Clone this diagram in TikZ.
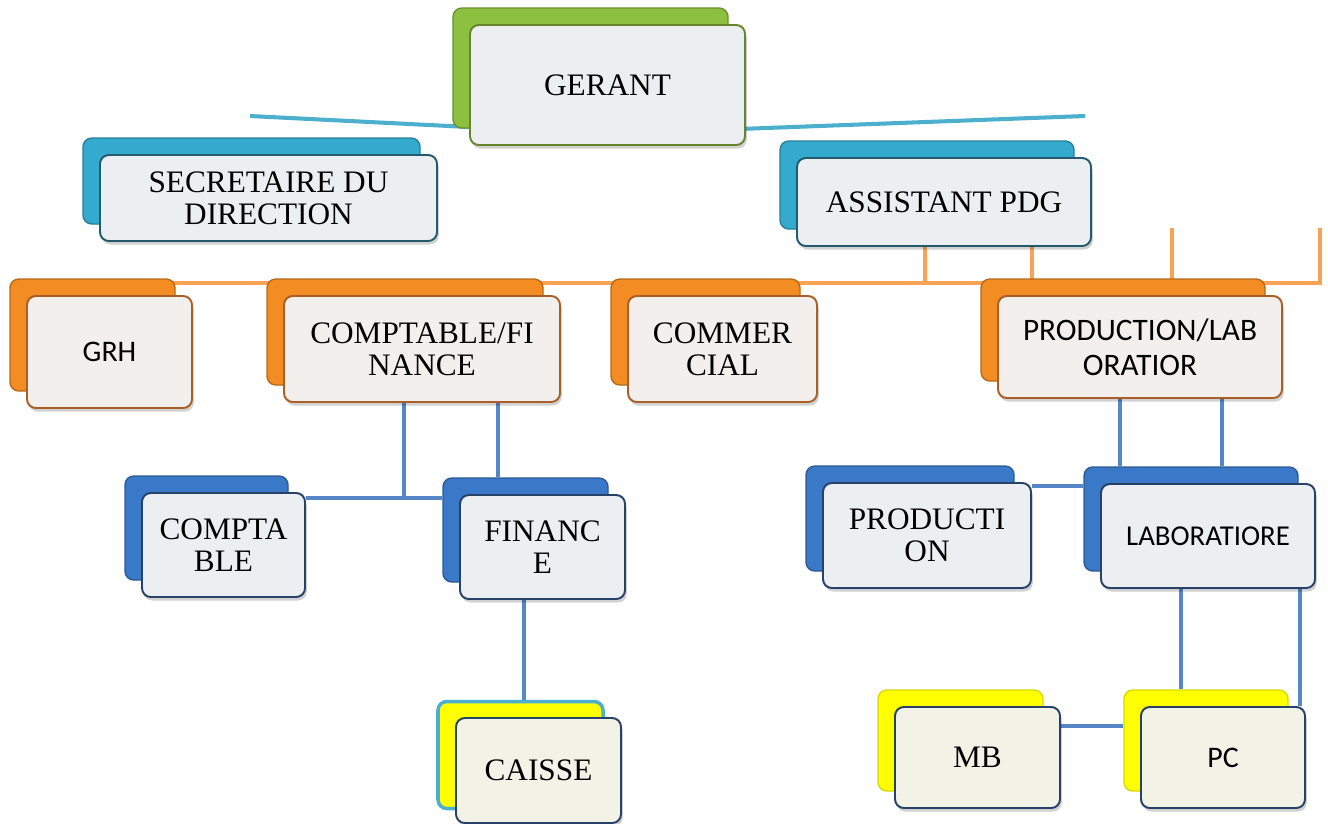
\documentclass[tikz,border=0pt]{standalone}
\usepackage{fontspec}
\setmainfont{Liberation Serif}
\setsansfont{Carlito}
\usetikzlibrary{shapes,positioning,calc,shadows,backgrounds}
\definecolor{vert}{RGB}{141,192,62}
\definecolor{bordvert}{RGB}{100,135,45}
\definecolor{cyanb}{RGB}{52,170,206}
\definecolor{bordcyan}{RGB}{35,90,110}
\definecolor{orangeb}{RGB}{243,140,35}
\definecolor{bordorange}{RGB}{170,95,40}
\definecolor{bleub}{RGB}{58,120,200}
\definecolor{bordbleu}{RGB}{40,65,105}
\definecolor{jauneb}{RGB}{255,255,0}
\definecolor{facefill}{RGB}{236,239,241}
\definecolor{facechaud}{RGB}{242,239,236}
\definecolor{facejaune}{RGB}{242,242,230}
\definecolor{lcyan}{RGB}{75,175,205}
\definecolor{lorange}{RGB}{250,162,85}
\definecolor{lbleu}{RGB}{85,135,200}
\tikzset{
  dos/.style={draw=#1!75!black, fill=#1, rounded corners=5pt, line width=0.8pt, inner sep=0pt},
  face/.style={draw=#1, fill=facefill, rounded corners=5pt, line width=1.1pt, inner sep=0pt,
    align=center, font=\fontsize{17.8}{18}\selectfont,
    drop shadow={shadow xshift=1pt, shadow yshift=-2pt, fill=black, opacity=0.18}},
  taille/.style 2 args={minimum width=#1*0.02cm, minimum height=#2*0.02cm},
  sans/.style={font=\sffamily\fontsize{17}{20}\selectfont},
  liencyan/.style={draw=lcyan, line width=2.3pt},
  lienorange/.style={draw=lorange, line width=2.2pt},
  lienbleu/.style={draw=lbleu, line width=2.2pt}
}
\begin{document}
\begin{tikzpicture}[x=0.02cm, y=-0.02cm]
\useasboundingbox (0,0) rectangle (1328,823);

% direction
\node[dos=vert, taille={275}{120}] (gerantb) at (590.5,68) {};
\node[face=bordvert, taille={275}{120}] (gerant) at (607.5,85) {GERANT};

\node[dos=cyanb, taille={337}{86}] (secrb) at (251.5,181) {};
\node[face=bordcyan, taille={337}{86}] (secr) at (268.5,198) {SECRETAIRE DU\\DIRECTION};

\node[dos=cyanb, taille={294}{88}] (assistb) at (927,185) {};
\node[face=bordcyan, taille={294}{88}] (assist) at (944,202) {ASSISTANT PDG};

% services
\node[dos=orangeb, taille={165}{112}] (grhb) at (92.5,335) {};
\node[face=bordorange, fill=facechaud, sans, taille={165}{112}] (grh) at (109.5,352) {GRH};

\node[dos=orangeb, taille={276}{106}] (compfinb) at (405,332) {};
\node[face=bordorange, fill=facechaud, taille={276}{106}] (compfin) at (422,349) {COMPTABLE/FI\\NANCE};

\node[dos=orangeb, taille={189}{106}] (commb) at (705.5,332) {};
\node[face=bordorange, fill=facechaud, taille={189}{106}] (comm) at (722.5,349) {COMMER\\CIAL};

\node[dos=orangeb, taille={284}{102}] (prodlabb) at (1123,330) {};
\node[face=bordorange, fill=facechaud, font=\sffamily\fontsize{17.8}{20}\selectfont, taille={284}{102}] (prodlab) at (1140,347) {PRODUCTION/LAB\\ORATIOR};

% sous-services
\node[dos=bleub, taille={163}{104}] (comptableb) at (206.5,528) {};
\node[face=bordbleu, taille={163}{104}] (comptable) at (223.5,545) {COMPTA\\BLE};

\node[dos=bleub, taille={165}{104}] (financeb) at (525.5,530) {};
\node[face=bordbleu, taille={165}{104}] (finance) at (542.5,547) {FINANC\\E};

\node[dos=bleub, taille={208}{105}] (productionb) at (910,518.5) {};
\node[face=bordbleu, taille={208}{105}] (production) at (927,535.5) {PRODUCTI\\ON};

\node[dos=bleub, taille={214}{104}] (labob) at (1191,519) {};
\node[face=bordbleu, font=\sffamily\fontsize{16.4}{20}\selectfont, taille={214}{104}] (labo) at (1208,536) {LABORATIORE};

% postes
\node[dos=jauneb, draw=lcyan, line width=2pt, taille={165}{107}] (caisseb) at (520.5,755) {};
\node[face=bordbleu, fill=facejaune, taille={165}{105}] (caisse) at (538.5,770.5) {CAISSE};

\node[dos=jauneb, draw=jauneb!85!black, taille={165}{101}] (mbb) at (960.5,740.5) {};
\node[face=bordbleu, fill=facejaune, taille={165}{101}] (mb) at (977.5,757.5) {MB};

\node[dos=jauneb, draw=jauneb!85!black, taille={164}{101}] (pcb) at (1206,740.5) {};
\node[face=bordbleu, fill=facejaune, sans, taille={164}{101}] (pc) at (1223,757.5) {PC};

\begin{pgfonlayer}{background}
% ligne cyan sous le gerant
\coordinate (cg) at (250,116);
\coordinate (cd) at (1085,116);
\draw[liencyan] (cg) -- ($(gerant.south)+(0,-12)$) -- (cd);

% barre orange
\coordinate (og) at (150,283);
\coordinate (od) at (1320,283);
\coordinate (odh) at (1320,228);
\coordinate (j1) at (925,283);
\coordinate (j2) at (1032,283);
\coordinate (j3) at (1172,283);
\coordinate (j3h) at (1172,228);
\draw[lienorange] (og) -- (od) -- (odh);
\draw[lienorange] (assist.south -| j1) -- (j1);
\draw[lienorange] (assist.south -| j2) -- (j2);
\draw[lienorange] (j3h) -- (j3);

% liens bleus
\coordinate (k1) at (404,498);
\coordinate (k2) at (498,480);
\coordinate (k3) at (524,700);
\draw[lienbleu] (compfin.south -| k1) -- (k1);
\draw[lienbleu] (comptable.east |- k1) -- (financeb.west |- k1);
\draw[lienbleu] (compfin.south -| k2) -- (financeb.north -| k2);
\draw[lienbleu] (finance.south -| k3) -- (caisseb.north -| k3);

\coordinate (k4) at (1120,470);
\coordinate (k5) at (1222,470);
\coordinate (k6) at (1060,486);
\draw[lienbleu] (prodlab.south -| k4) -- (labob.north -| k4);
\draw[lienbleu] (prodlab.south -| k5) -- (labob.north -| k5);
\draw[lienbleu] (production.east |- k6) -- (labob.west |- k6);

\coordinate (k7) at (1181,690);
\coordinate (k8) at (1300,707);
\coordinate (k9) at (1090,726);
\draw[lienbleu] (labo.south -| k7) -- (pcb.north -| k7);
\draw[lienbleu] (labo.south -| k8) -- (pc.north -| k8);
\draw[lienbleu] (mb.east |- k9) -- (pcb.west |- k9);
\end{pgfonlayer}

\end{tikzpicture}
\end{document}
